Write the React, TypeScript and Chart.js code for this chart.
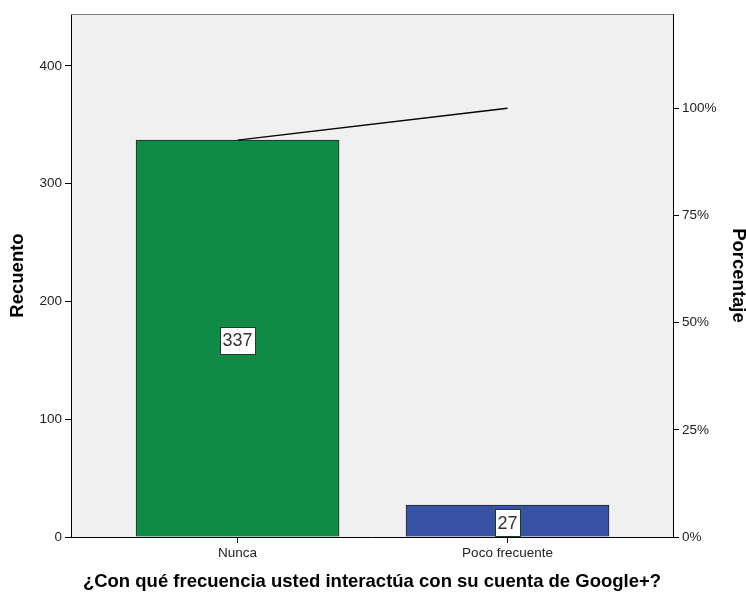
import React, { useEffect, useRef } from "react";
import { Chart, registerables } from "chart.js";

Chart.register(...registerables);

const categories = ["Nunca", "Poco frecuente"];
const counts = [337, 27];
const cumulativePct = [92.58, 100];
const barColors = ["#0F8B46", "#3953A4"];
const countTicks = [0, 100, 200, 300, 400];
const pctTicks = [0, 25, 50, 75, 100];

const FONT = "'Liberation Sans', Arial, sans-serif";

const bgPlugin = {
  id: "bgPlugin",
  beforeDraw(chart: any) {
    const { ctx, chartArea } = chart;
    ctx.save();
    ctx.fillStyle = "#F0F0F0";
    ctx.fillRect(chartArea.left, chartArea.top, chartArea.right - chartArea.left, chartArea.bottom - chartArea.top);
    ctx.restore();
  },
  afterDraw(chart: any) {
    const { ctx, chartArea } = chart;
    ctx.save();
    ctx.lineWidth = 1;
    ctx.strokeStyle = "#808080";
    ctx.beginPath();
    ctx.moveTo(chartArea.left, chartArea.top + 0.5);
    ctx.lineTo(chartArea.right, chartArea.top + 0.5);
    ctx.stroke();
    ctx.restore();
  },
};

const labelPlugin = {
  id: "labelPlugin",
  afterDatasetsDraw(chart: any) {
    const { ctx } = chart;
    chart.data.datasets.forEach((ds: any, di: number) => {
      if (ds.type !== "bar") return;
      const meta = chart.getDatasetMeta(di);
      meta.data.forEach((el: any, i: number) => {
        const v = ds.data[i].y;
        const text = String(v);
        ctx.save();
        ctx.font = `18px ${FONT}`;
        const w = ctx.measureText(text).width;
        const bw = w + 5;
        const bh = 27;
        const cx = el.x;
        const cy = (el.y + el.base) / 2 + 2;
        ctx.fillStyle = "#FFFFFF";
        ctx.fillRect(Math.round(cx - bw / 2) + 0.5, Math.round(cy - bh / 2) + 0.5, bw, bh);
        ctx.strokeStyle = "#1E3A2A";
        ctx.lineWidth = 1;
        ctx.strokeRect(Math.round(cx - bw / 2) + 0.5, Math.round(cy - bh / 2) + 0.5, bw, bh);
        ctx.fillStyle = "#333333";
        ctx.textAlign = "center";
        ctx.textBaseline = "middle";
        ctx.fillText(text, cx, cy + 1);
        ctx.restore();
      });
    });
  },
};

export default function App() {
  const ref = useRef<HTMLCanvasElement | null>(null);

  useEffect(() => {
    if (!ref.current) return;
    const chart = new Chart(ref.current, {
      data: {
        datasets: [
          {
            type: "line",
            data: categories.map((_, i) => ({ x: i, y: cumulativePct[i] })),
            yAxisID: "y1",
            borderColor: "#000000",
            borderWidth: 1.5,
            pointRadius: 0,
            order: 0,
          } as any,
          {
            type: "bar",
            data: categories.map((_, i) => ({ x: i, y: counts[i] })),
            yAxisID: "y",
            backgroundColor: barColors,
            borderColor: "#262626",
            borderWidth: 1,
            barThickness: 203,
            order: 1,
          } as any,
        ],
      },
      options: {
        responsive: false,
        animation: false,
        layout: { padding: { top: 14, left: 0, right: 0, bottom: 0 } },
        plugins: {
          legend: { display: false },
          tooltip: { enabled: false },
        },
        scales: {
          x: {
            type: "linear",
            min: -0.617,
            max: 1.613,
            offset: false,
            afterBuildTicks: (s: any) => {
              s.ticks = categories.map((_, i) => ({ value: i }));
            },
            afterFit: (s: any) => {
              s.height = 56;
            },
            ticks: {
              callback: (v: any) => categories[v as number] ?? "",
              font: { family: FONT, size: 13.5 },
              color: "#222",
              padding: 2,
              maxRotation: 0,
              autoSkip: false,
            },
            grid: { display: true, offset: false, drawOnChartArea: false, drawTicks: true, tickLength: 6, color: "#000" },
            border: { display: true, color: "#000" },
            title: {
              display: true,
              text: "¿Con qué frecuencia usted interactúa con su cuenta de Google+?",
              font: { family: FONT, size: 18.5, weight: "bold" },
              color: "#000",
              padding: { top: 0, bottom: 0 },
            },
          },
          y: {
            type: "linear",
            position: "left",
            min: 0,
            max: 444,
            afterBuildTicks: (s: any) => {
              s.ticks = countTicks.map((v) => ({ value: v }));
            },
            afterFit: (s: any) => {
              s.width = 71;
            },
            ticks: {
              font: { family: FONT, size: 13.5 },
              color: "#222",
              padding: 3,
            },
            grid: { display: true, drawOnChartArea: false, drawTicks: true, tickLength: 6, color: "#000" },
            border: { display: true, color: "#000" },
            title: {
              display: true,
              text: "Recuento",
              font: { family: FONT, size: 18.5, weight: "bold" },
              color: "#000",
              padding: { top: 7, bottom: 0 },
            },
          },
          y1: {
            type: "linear",
            position: "right",
            min: 0,
            max: 122,
            afterBuildTicks: (s: any) => {
              s.ticks = pctTicks.map((v) => ({ value: v }));
            },
            afterFit: (s: any) => {
              s.width = 73;
            },
            ticks: {
              callback: (v: any) => `${v}%`,
              font: { family: FONT, size: 13.5 },
              color: "#222",
              padding: 3,
            },
            grid: { display: true, drawOnChartArea: false, drawTicks: true, tickLength: 6, color: "#000" },
            border: { display: true, color: "#000" },
            title: {
              display: true,
              text: "Porcentaje",
              font: { family: FONT, size: 18.5, weight: "bold" },
              color: "#000",
              padding: { top: -3, bottom: 0 },
            },
          },
        },
      },
      plugins: [bgPlugin, labelPlugin],
    } as any);
    return () => chart.destroy();
  }, []);

  return (
    <canvas
      ref={ref}
      width={746}
      height={593}
      style={{ position: "absolute", left: 0, top: 0, width: 746, height: 593 }}
    />
  );
}
